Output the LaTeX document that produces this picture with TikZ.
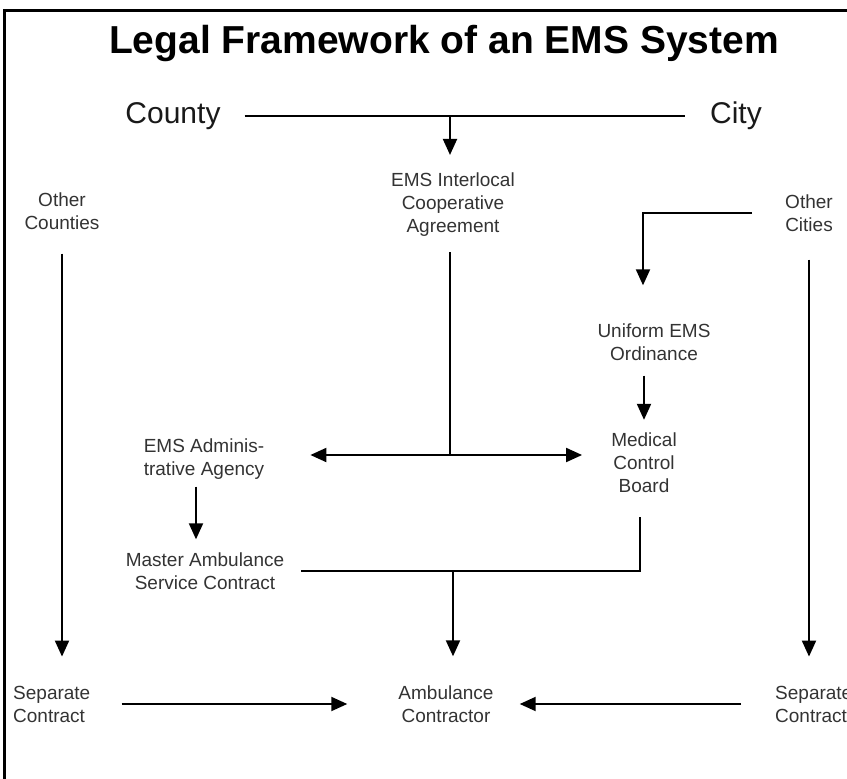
\documentclass[tikz,border=0pt]{standalone}
\usepackage{fontspec}
\setmainfont{Liberation Sans}
\usetikzlibrary{arrows.meta}

\begin{document}
\begin{tikzpicture}[x=1pt,y=-1pt,
    label/.style={align=center,font=\fontsize{19}{23}\selectfont,text=black!80,inner sep=0pt},
    big/.style={font=\fontsize{30}{36}\selectfont,text=black!90,inner sep=0pt},
    line/.style={line width=2pt},
    arr/.style={line width=2pt,-{Triangle[length=16pt,width=14pt]}}]

    \useasboundingbox (0,0) rectangle (847,779);
    \draw[line width=3pt] (4,779) -- (4,10) -- (847,10);

    \node[font=\fontsize{39}{44}\selectfont\bfseries] (title) at (444,44) {Legal Framework of an EMS System};

    \node[big] (county) at (173,116) {County};
    \node[big] (city) at (736,116) {City};

    \node[label] (interlocal) at (453,205) {EMS Interlocal\\Cooperative\\Agreement};
    \node[label] (othercounties) at (62,211) {Other\\Counties};
    \node[label] (othercities) at (809,213) {Other\\Cities};
    \node[label] (uniform) at (654,342) {Uniform EMS\\Ordinance};
    \node[label] (medical) at (644,463) {Medical\\Control\\Board};
    \node[label,align=left] (agency) at (204,459) {EMS Adminis-\\trative Agency};
    \node[label] (master) at (205,571) {Master Ambulance\\Service Contract};
    \node[label] (ambulance) at (446,704) {Ambulance\\Contractor};
    \node[label,align=left,anchor=west] (sepleft) at (13,704) {Separate\\Contract};
    \node[label,align=left,anchor=west] (sepright) at (775,704) {Separate\\Contract};

    \coordinate (split) at (450,116);
    \coordinate (fork) at (450,455);
    \coordinate (merge) at (453,571);

    \draw[line,shorten <=24pt,shorten >=25pt] (county) -- (city);
    \draw[arr,shorten >=18pt] (split) -- (split |- interlocal.north);
    \draw[line,shorten <=15pt] (interlocal.south -| fork) -- (fork);
    \draw[arr,shorten >=46pt] (fork) -- (fork -| agency.east);
    \draw[arr,shorten >=29pt] (fork) -- (fork -| medical.west);

    \draw[arr,shorten <=24pt,shorten >=29pt] (othercounties) -- (othercounties |- sepleft.north);
    \draw[arr,shorten <=28pt,shorten >=29pt] (othercities) -- (othercities |- sepright.north);

    \draw[arr,shorten <=33pt,shorten >=38pt] (othercities.west) -| ([xshift=-11pt]uniform.north);
    \draw[arr,shorten <=15pt,shorten >=13pt] (uniform.south -| medical) -- (medical.north);
    \draw[line,shorten <=24pt,shorten >=17pt] ([xshift=-4pt]medical.south) |- (master.east);
    \draw[arr,shorten >=29pt] (merge) -- (merge |- ambulance.north);

    \draw[arr,shorten <=7pt,shorten >=13pt] ([xshift=-8pt]agency.south) -- ([xshift=-9pt]master.north);
    \draw[arr,shorten <=31pt,shorten >=51pt] (sepleft) -- (ambulance);
    \draw[arr,shorten <=34pt,shorten >=26pt] (sepright) -- (ambulance);
\end{tikzpicture}
\end{document}
